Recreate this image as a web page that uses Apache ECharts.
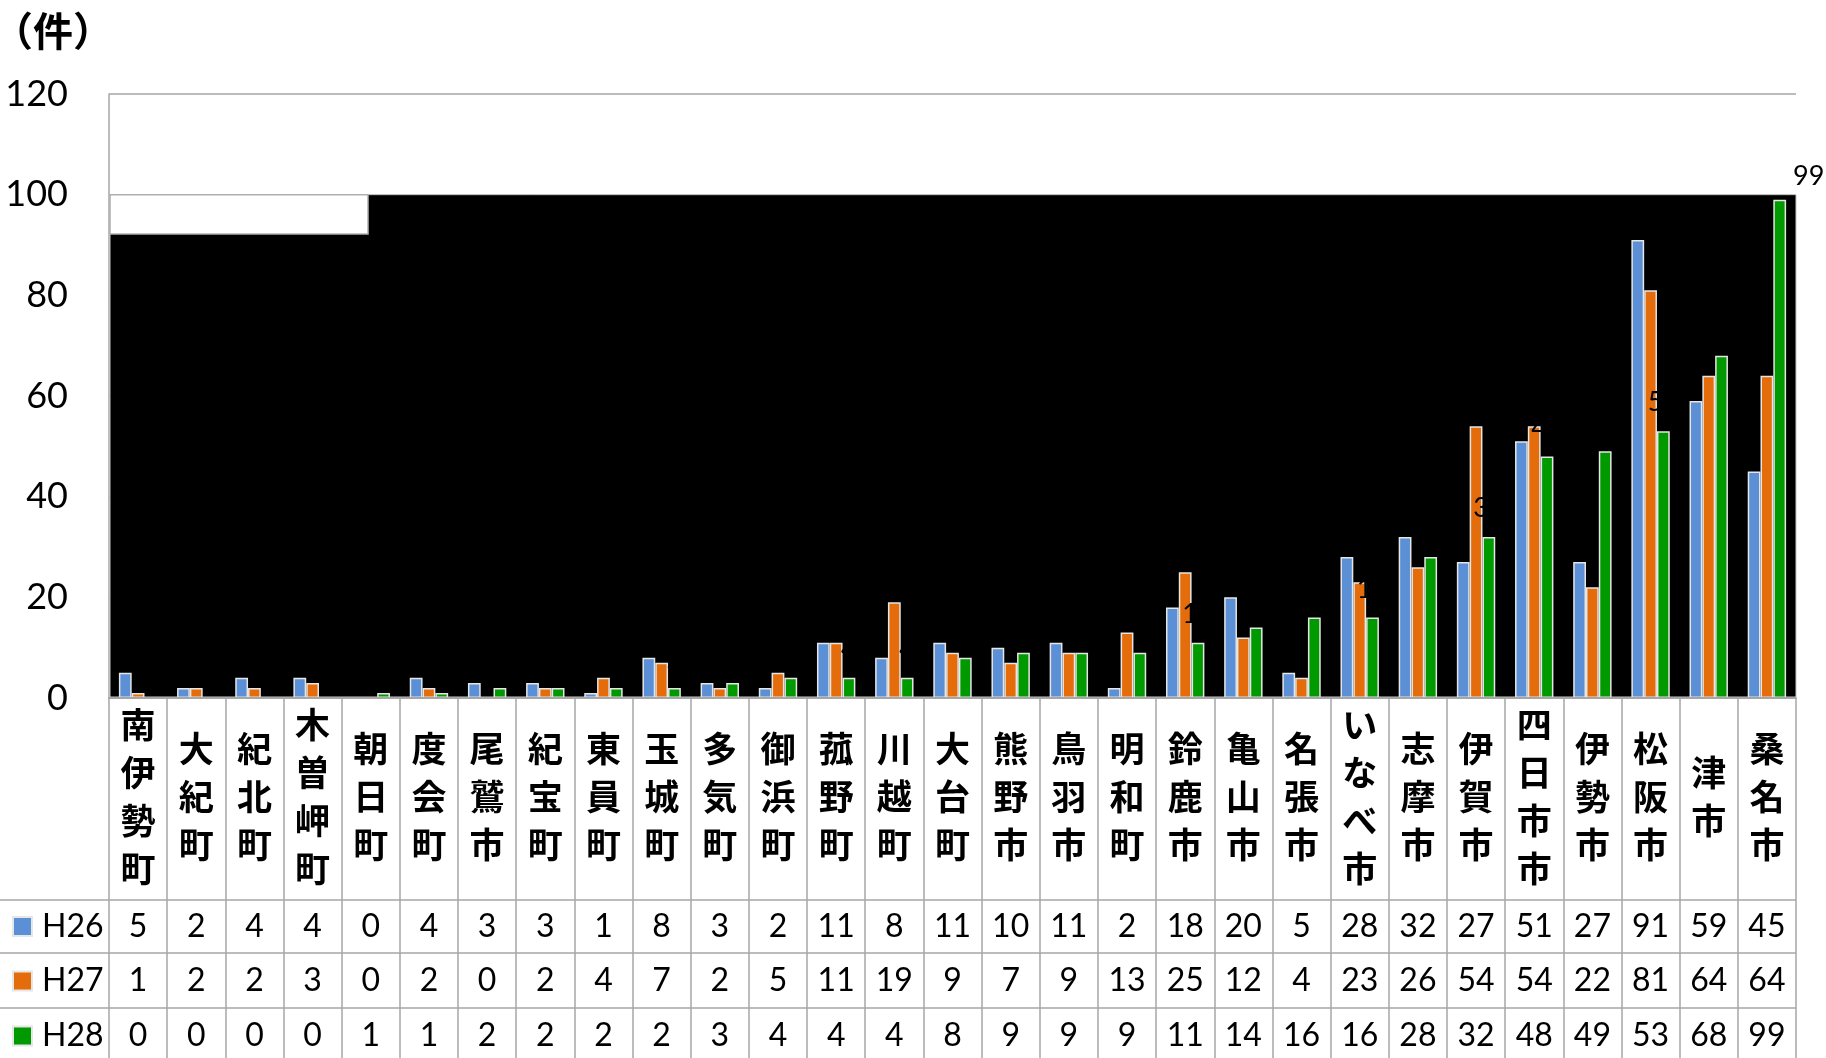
<!DOCTYPE html>
<html>
<head>
<meta charset="utf-8">
<script src="https://cdn.jsdelivr.net/npm/echarts@6/dist/echarts.min.js"></script>
<style>
html,body{margin:0;padding:0;background:#fff;}
#c{width:1826px;height:1058px;}
</style>
</head>
<body>
<div id="c"></div>
<script>
// ---- data ----
const categories = ['南伊勢町','大紀町','紀北町','木曽岬町','朝日町','度会町','尾鷲市','紀宝町','東員町','玉城町','多気町','御浜町','菰野町','川越町','大台町','熊野市','鳥羽市','明和町','鈴鹿市','亀山市','名張市','いなべ市','志摩市','伊賀市','四日市市','伊勢市','松阪市','津市','桑名市'];
const seriesNames = ['H26','H27','H28'];
const h26 = [5,2,4,4,0,4,3,3,1,8,3,2,11,8,11,10,11,2,18,20,5,28,32,27,51,27,91,59,45];
const h27 = [1,2,2,3,0,2,0,2,4,7,2,5,11,19,9,7,9,13,25,12,4,23,26,54,54,22,81,64,64];
const h28 = [0,0,0,0,1,1,2,2,2,2,3,4,4,4,8,9,9,9,11,14,16,16,28,32,48,49,53,68,99];
const yMin = 0, yMax = 120, yInterval = 20;
const unitLabel = '（件）';

// ---- layout / style ----
const G_L = 109, G_R = 1796, G_T = 94, G_B = 698, W = 1826, H = 1058;
const colors = ['#5B8FD6','#E46C0A','#009900'];
const lineGray = '#a6a6a6';
const numFont = 'Lato';
const cjkFont = 'Noto Sans CJK JP';
const rowCenters = [926.5, 981, 1036];

const chart = echarts.init(document.getElementById('c'), null, {renderer:'canvas'});

function rowAxis(values, margin) {
  return {
    type:'category', gridIndex:0, position:'bottom', offset:0,
    data: categories,
    axisLine:{show:false}, axisTick:{show:false}, splitLine:{show:false},
    axisLabel:{
      interval:0, margin: margin, verticalAlign:'middle',
      fontFamily:numFont, fontSize:32, color:'#000',
      formatter:(v, i) => String(values[i])
    }
  };
}

const seriesData = [h26, h27, h28];
const series = seriesNames.map((n, k) => ({
  name:n, type:'bar', xAxisIndex:0, yAxisIndex:0,
  barGap:'0%', barCategoryGap:'34%', z:2,
  itemStyle:{color:colors[k], borderColor:'#e6e6e6', borderWidth:1.5},
  data: seriesData[k].map((v, i) => {
    if (k === 2 && i === seriesData[k].length - 1) {
      return {value:v, label:{show:true, offset:[29, 5]}};
    }
    return v;
  }),
  label: k === 2 ? {show:true, position:'top', distance:15, color:'#000', fontFamily:numFont, fontSize:27} : {show:false}
}));

const legends = seriesNames.map((n, k) => ({
  data:[n], orient:'vertical', left:12, top:rowCenters[k] - 18, padding:0,
  icon:'rect', itemWidth:19, itemHeight:19,
  textStyle:{fontFamily:numFont, fontSize:32, color:'#000', lineHeight:36, padding:[0,0,0,5]},
  selectedMode:false
}));

const option = {
  animation:false,
  backgroundColor:'#fff',
  title:{text:unitLabel, left:-12, top:6, textStyle:{fontFamily:cjkFont, fontSize:40, fontWeight:'bold', color:'#000'}},
  legend: legends,
  grid:{left:G_L, right:W-G_R, top:G_T, bottom:H-G_B, containLabel:false},
  xAxis:[
    {
      type:'category', gridIndex:0, position:'bottom', data:categories, z:3,
      axisLine:{show:true, lineStyle:{color:lineGray, width:2}},
      axisTick:{show:true, length:H-G_B, lineStyle:{color:lineGray, width:1.5}},
      axisLabel:{
        interval:0, margin:99, verticalAlign:'middle',
        fontFamily:cjkFont, fontSize:35, fontWeight:'bold', lineHeight:48, color:'#000',
        formatter:v => v.split('').join('\n')
      }
    },
    rowAxis(h26, rowCenters[0] - G_B),
    rowAxis(h27, rowCenters[1] - G_B),
    rowAxis(h28, rowCenters[2] - G_B)
  ],
  yAxis:{
    type:'value', min:yMin, max:yMax, interval:yInterval,
    axisLine:{show:true, lineStyle:{color:lineGray, width:1.5}},
    axisTick:{show:false},
    splitLine:{show:true, lineStyle:{color:lineGray, width:1.5}},
    axisLabel:{margin:41, fontFamily:numFont, fontSize:36, color:'#000'}
  },
  series: series
};
chart.setOption(option);

// decorative layers computed through the axis scale
const y100 = chart.convertToPixel({yAxisIndex:0}, 100);
const y0 = chart.convertToPixel({yAxisIndex:0}, 0);
const yBox = chart.convertToPixel({yAxisIndex:0}, 92.2);
const rowLines = [900, 953, 1008];
const graphic = [
  {type:'rect', z:1, shape:{x:G_L+1, y:y100, width:G_R-G_L-1, height:y0-y100-1}, style:{fill:'#000', stroke:'#c8c8c8', lineWidth:1}},
  {type:'rect', z:1, shape:{x:G_L+1, y:y100, width:258, height:yBox-y100}, style:{fill:'#fff', stroke:'#b0b0b0', lineWidth:1.5}}
];
rowLines.forEach(y => graphic.push({type:'line', z:3, shape:{x1:0, y1:y, x2:G_R, y2:y}, style:{stroke:lineGray, lineWidth:1.5}}));
chart.setOption({graphic: graphic});
</script>
</body>
</html>
